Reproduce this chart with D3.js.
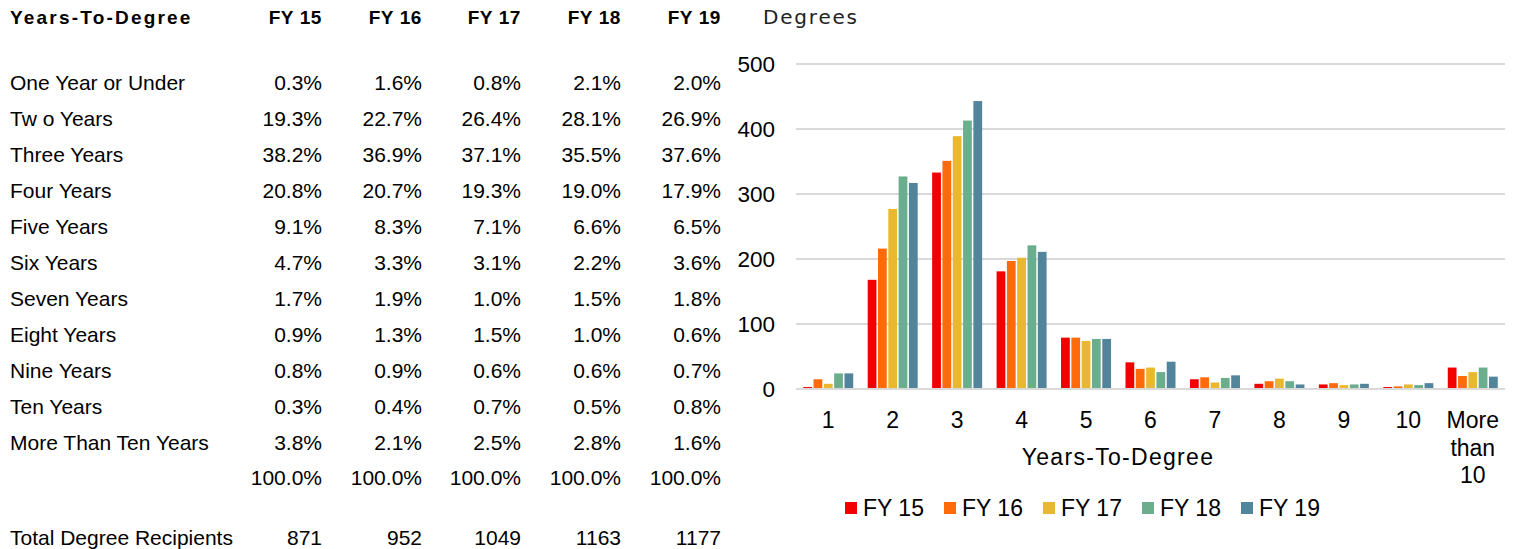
<!DOCTYPE html>
<html><head><meta charset="utf-8">
<script src="https://cdn.jsdelivr.net/npm/d3@7"></script>
<style>
html,body{margin:0;padding:0;background:#fff;}
svg{display:block;}
</style></head>
<body>
<svg id="c" width="1517" height="549"></svg>
<script>
// ---- data ----
const categories = ["1","2","3","4","5","6","7","8","9","10","More than 10"];
const seriesNames = ["FY 15","FY 16","FY 17","FY 18","FY 19"];
const fy15 = [3,168,333,181,79,41,15,8,7,3,33];
const fy16 = [15,216,351,197,79,31,18,12,9,4,20];
const fy17 = [8,277,389,202,74,33,10,16,6,7,26];
const fy18 = [24,327,413,221,77,26,17,12,7,6,33];
const fy19 = [24,317,443,211,77,42,21,7,8,9,19];
const yTicks = [0,100,200,300,400,500];
const colors = ["#F20000","#FF6B0A","#E8B830","#6BAE8E","#52849C"];

const rowLabels = ["One Year or Under","Tw o Years","Three Years","Four Years","Five Years","Six Years","Seven Years","Eight Years","Nine Years","Ten Years","More Than Ten Years"];
const pct15 = ["0.3%","19.3%","38.2%","20.8%","9.1%","4.7%","1.7%","0.9%","0.8%","0.3%","3.8%"];
const pct16 = ["1.6%","22.7%","36.9%","20.7%","8.3%","3.3%","1.9%","1.3%","0.9%","0.4%","2.1%"];
const pct17 = ["0.8%","26.4%","37.1%","19.3%","7.1%","3.1%","1.0%","1.5%","0.6%","0.7%","2.5%"];
const pct18 = ["2.1%","28.1%","35.5%","19.0%","6.6%","2.2%","1.5%","1.0%","0.6%","0.5%","2.8%"];
const pct19 = ["2.0%","26.9%","37.6%","17.9%","6.5%","3.6%","1.8%","0.6%","0.7%","0.8%","1.6%"];
const colTotalPct = ["100.0%","100.0%","100.0%","100.0%","100.0%"];
const totals = ["871","952","1049","1163","1177"];

const series = [fy15,fy16,fy17,fy18,fy19];
const pcts = [pct15,pct16,pct17,pct18,pct19];

const svg = d3.select("#c");
const FONT = "'Liberation Sans', Arial, sans-serif";
const TFS = 21;

// ---- table ----
const tbl = svg.append("g").attr("font-family", FONT).attr("fill","#000");
const colX = [322,422,521,621,721];
tbl.append("text").attr("x",10).attr("y",24).attr("font-size",19).attr("font-weight","bold")
  .attr("letter-spacing","2.2px").text("Years-To-Degree");
seriesNames.forEach((s,i)=>{
  tbl.append("text").attr("x",colX[i]).attr("y",24).attr("font-size",19).attr("font-weight","bold")
    .attr("letter-spacing","0.6px").attr("text-anchor","end").text(s);
});
const rowY = d3.scaleLinear().domain([0,10]).range([90,450]);
rowLabels.forEach((r,j)=>{
  tbl.append("text").attr("x",10).attr("y",rowY(j)).attr("font-size",TFS).text(r);
  pcts.forEach((p,i)=>{
    tbl.append("text").attr("x",colX[i]).attr("y",rowY(j)).attr("font-size",TFS)
      .attr("text-anchor","end").text(p[j]);
  });
});
colTotalPct.forEach((t,i)=>{
  tbl.append("text").attr("x",colX[i]).attr("y",485).attr("font-size",TFS).attr("text-anchor","end").text(t);
});
tbl.append("text").attr("x",10).attr("y",545).attr("font-size",TFS).text("Total Degree Recipients");
totals.forEach((t,i)=>{
  tbl.append("text").attr("x",colX[i]).attr("y",545).attr("font-size",TFS).attr("text-anchor","end").text(t);
});

// ---- chart ----
const x = d3.scaleBand().domain(categories).range([796,1505]).padding(0);
const y = d3.scaleLinear().domain([0,500]).range([389,64]);
const inner = d3.scaleBand().domain(seriesNames).range([-25,25]).paddingInner(0.15);

const ch = svg.append("g");
// gridlines
ch.append("g").selectAll("line").data(yTicks).join("line")
  .attr("x1",796).attr("x2",1505).attr("y1",d=>y(d)).attr("y2",d=>y(d))
  .attr("stroke","#d9d9d9").attr("stroke-width",2);
// y labels
ch.append("g").selectAll("text").data(yTicks).join("text")
  .attr("x",775).attr("y",d=>y(d)+8).attr("text-anchor","end")
  .attr("font-family",FONT).attr("font-size",22.5).attr("fill","#000").text(d=>d);
ch.append("text").attr("x",763).attr("y",24).attr("font-family","'DejaVu Sans', sans-serif")
  .attr("font-size",20).attr("letter-spacing","1.8px").attr("fill","#222").text("Degrees");

// bars
series.forEach((vals,si)=>{
  ch.append("g").selectAll("rect").data(vals).join("rect")
    .attr("x",(d,k)=>x(categories[k])+x.bandwidth()/2+inner(seriesNames[si]))
    .attr("width",inner.bandwidth())
    .attr("y",d=>y(d)).attr("height",d=>y(0)-y(d))
    .attr("fill",colors[si]);
});
// baseline
ch.append("line").attr("x1",796).attr("x2",1505).attr("y1",y(0)).attr("y2",y(0))
  .attr("stroke","#d9d9d9").attr("stroke-width",2);

// x labels
const xl = ch.append("g").attr("font-family",FONT).attr("font-size",23).attr("fill","#000");
categories.forEach(c=>{
  const words = c === "More than 10" ? ["More","than","10"] : [c];
  const t = xl.append("text").attr("x",x(c)+x.bandwidth()/2).attr("y",428).attr("text-anchor","middle");
  words.forEach((w,i)=>{
    t.append("tspan").attr("x",x(c)+x.bandwidth()/2).attr("dy",i===0?0:27.5).text(w);
  });
});
ch.append("text").attr("x",1118).attr("y",465).attr("text-anchor","middle")
  .attr("font-family",FONT).attr("font-size",23).attr("letter-spacing","1.3px").text("Years-To-Degree");

// legend
const lg = ch.append("g");
seriesNames.forEach((s,i)=>{
  const lx = 845 + i*99;
  lg.append("rect").attr("x",lx).attr("y",502).attr("width",12).attr("height",12).attr("fill",colors[i]);
  lg.append("text").attr("x",lx+18).attr("y",516).attr("font-family",FONT).attr("font-size",23)
    .attr("fill","#000").text(s);
});
</script>
</body></html>
